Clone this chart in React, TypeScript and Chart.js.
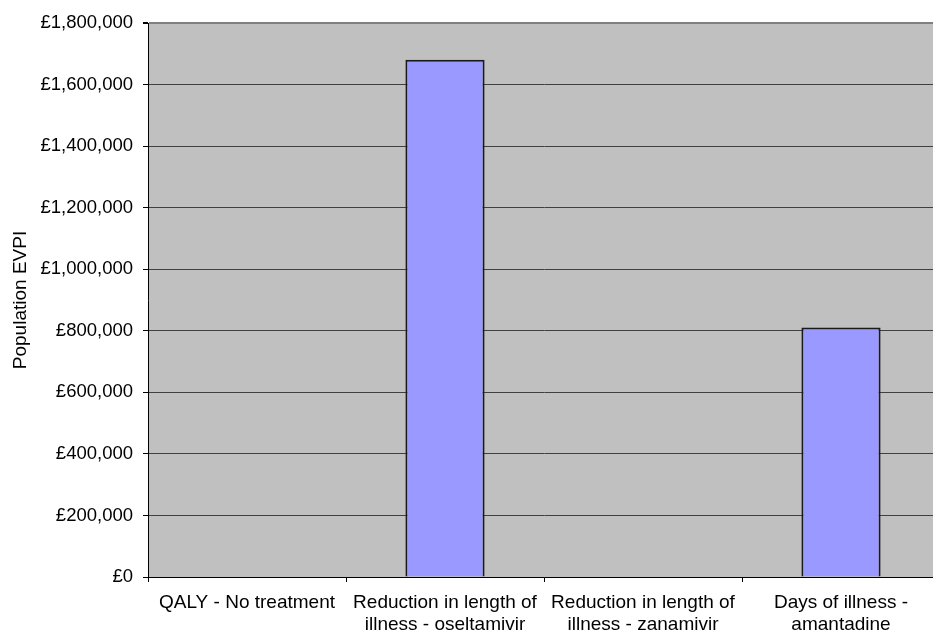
import React, { useEffect, useRef } from "react";
import { Chart, registerables } from "chart.js";

Chart.register(...registerables);

const categories: string[][] = [
  ["QALY - No treatment"],
  ["Reduction in length of", "illness - oseltamivir"],
  ["Reduction in length of", "illness - zanamivir"],
  ["Days of illness -", "amantadine"],
];
const evpiValues: number[] = [0, 1681000, 0, 811000];
const yMin = 0;
const yMax = 1800000;
const yStep = 200000;
const yTitle = "Population EVPI";

const FONT = "'Liberation Sans', Arial, Helvetica, sans-serif";

const plotBg = {
  id: "plotBg",
  beforeDraw(chart: any) {
    const { ctx, chartArea } = chart;
    if (!chartArea) return;
    ctx.save();
    ctx.fillStyle = "#C0C0C0";
    ctx.fillRect(chartArea.left, chartArea.top, chartArea.right - chartArea.left, chartArea.bottom - chartArea.top);
    ctx.restore();
  },
};

export default function App() {
  const ref = useRef<HTMLCanvasElement | null>(null);
  useEffect(() => {
    if (!ref.current) return;
    const chart = new Chart(ref.current, {
      type: "bar",
      data: {
        labels: categories as any,
        datasets: [
          {
            data: evpiValues,
            backgroundColor: "#9999FF",
            borderColor: "#1a1a1a",
            borderWidth: 2,
            categoryPercentage: 1,
            barPercentage: 0.4,
          },
        ],
      },
      plugins: [plotBg],
      options: {
        animation: false,
        responsive: true,
        maintainAspectRatio: false,
        devicePixelRatio: 1,
        layout: { padding: { left: 5, top: 23, right: 0, bottom: 0 } },
        plugins: {
          legend: { display: false },
          tooltip: { enabled: false },
        },
        scales: {
          x: {
            offset: true,
            grid: {
              offset: true,
              drawOnChartArea: false,
              drawTicks: true,
              tickLength: 5,
              tickColor: "#000000",
            },
            border: { display: true, color: "#000000", width: 1 },
            ticks: {
              autoSkip: false,
              maxRotation: 0,
              minRotation: 0,
              padding: 9,
              color: "#000000",
              font: { family: FONT, size: 19 },
            },
            afterFit(scale: any) {
              scale.height = 60;
            },
          },
          y: {
            min: yMin,
            max: yMax,
            grid: {
              color: (c: any) => (c.tick && c.tick.value === yMax ? "#808080" : "#404040"),
              lineWidth: (c: any) => (c.tick && c.tick.value === yMax ? 2 : 1),
              drawTicks: true,
              tickLength: 5,
              tickColor: "#000000",
            },
            border: { display: true, color: "#000000", width: 1 },
            ticks: {
              stepSize: yStep,
              padding: 10,
              color: "#000000",
              font: { family: FONT, size: 18.5 },
              callback: (v: any) => "£" + Number(v).toLocaleString("en-GB"),
            },
            title: {
              display: true,
              text: yTitle,
              color: "#000000",
              font: { family: FONT, size: 19 },
              padding: 4,
            },
            afterFit(scale: any) {
              scale.width = 143;
            },
          },
        },
      },
    });
    return () => chart.destroy();
  }, []);
  return (
    <div style={{ position: "absolute", left: 0, top: 0, width: 933, height: 637, overflow: "hidden", background: "#fff" }}>
      <div style={{ position: "relative", width: 940, height: 637 }}>
        <canvas ref={ref} />
      </div>
    </div>
  );
}
